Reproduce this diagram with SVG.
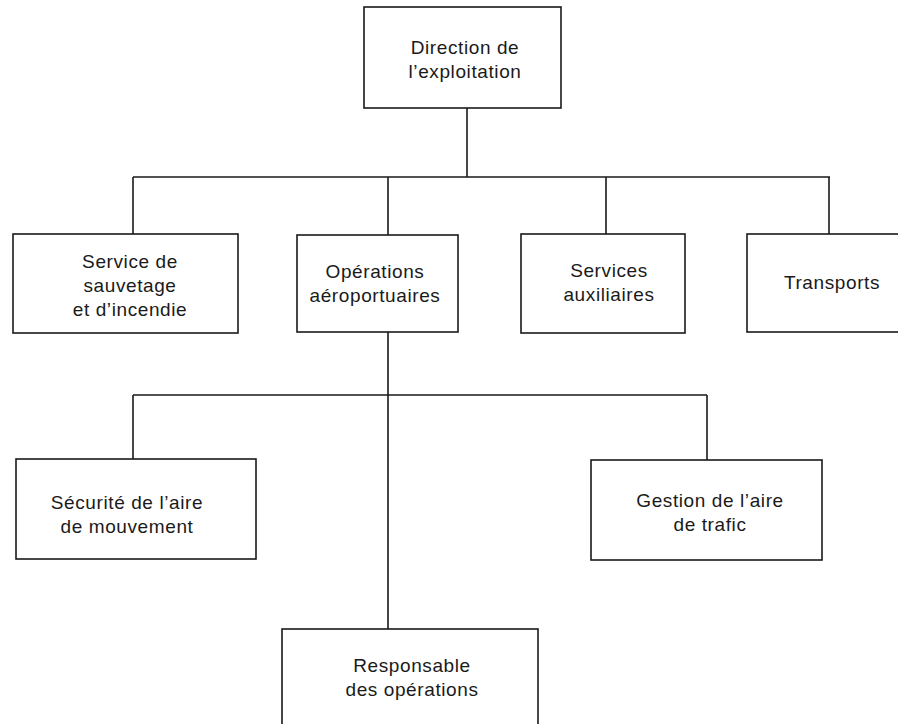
<svg xmlns="http://www.w3.org/2000/svg" width="898" height="724" viewBox="0 0 898 724">
<style>
.box{fill:#fff;stroke:#1a1a1a;stroke-width:1.6}
.ln{fill:none;stroke:#1a1a1a;stroke-width:1.6}
text{font-family:"Liberation Sans",Arial,sans-serif;font-size:19px;fill:#1a1a1a;text-anchor:middle;letter-spacing:0.6px}
</style>
<rect width="898" height="724" fill="#fff"/>
<g id="connectors">
<path class="ln" d="M467 108V177M133 177H830M133 177V234M388 177V235M606 177V234M829 177V234"/>
<path class="ln" d="M388 332V629M133 395H707M133 395V459M707 395V460"/>
</g>
<g id="n-direction">
<rect class="box" x="364" y="7" width="197" height="101"/>
<text x="465" y="54">Direction de</text>
<text x="465" y="78">l’exploitation</text>
</g>
<g id="n-sauvetage">
<rect class="box" x="13" y="234" width="225" height="99"/>
<text x="130" y="268">Service de</text>
<text x="130" y="292">sauvetage</text>
<text x="130" y="316">et d’incendie</text>
</g>
<g id="n-operations">
<rect class="box" x="297" y="235" width="161" height="97"/>
<text x="375" y="278">Opérations</text>
<text x="375" y="302">aéroportuaires</text>
</g>
<g id="n-auxiliaires">
<rect class="box" x="521" y="234" width="164" height="99"/>
<text x="609" y="277">Services</text>
<text x="609" y="301">auxiliaires</text>
</g>
<g id="n-transports">
<rect class="box" x="747" y="234" width="170" height="98"/>
<text x="832" y="289">Transports</text>
</g>
<g id="n-securite">
<rect class="box" x="16" y="459" width="240" height="100"/>
<text x="127" y="509">Sécurité de l’aire</text>
<text x="127" y="533">de mouvement</text>
</g>
<g id="n-gestion">
<rect class="box" x="591" y="460" width="231" height="100"/>
<text x="710" y="507">Gestion de l’aire</text>
<text x="710" y="531">de trafic</text>
</g>
<g id="n-responsable">
<rect class="box" x="282" y="629" width="256" height="110"/>
<text x="412" y="672">Responsable</text>
<text x="412" y="696">des opérations</text>
</g>
</svg>
